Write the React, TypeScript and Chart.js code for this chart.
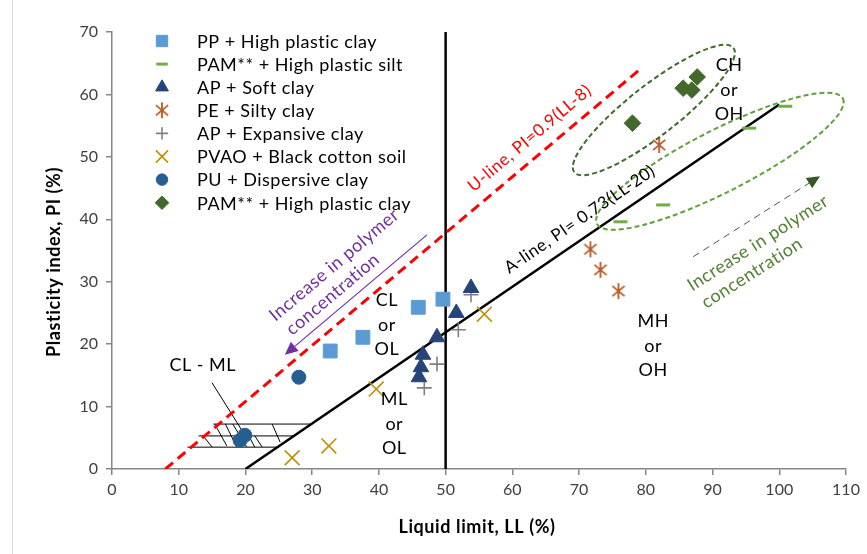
import React, { useEffect, useRef } from "react";
import { Chart, registerables } from "chart.js";
import { drawPoint } from "chart.js/helpers";

Chart.register(...registerables);

// ---------------- data ----------------
const xTicks = [0, 10, 20, 30, 40, 50, 60, 70, 80, 90, 100, 110];
const yTicks = [0, 10, 20, 30, 40, 50, 60, 70];

const legendLabels = [
  "PP + High plastic clay",
  "PAM** + High plastic silt",
  "AP + Soft clay",
  "PE + Silty clay",
  "AP + Expansive clay",
  "PVAO + Black cotton soil",
  "PU + Dispersive clay",
  "PAM** + High plastic clay",
];

const ppLL = [32.7, 37.6, 45.9, 49.6];
const ppPI = [18.9, 21.1, 25.9, 27.2];
const pamSiltLL = [76.2, 82.6, 95.5, 100.9];
const pamSiltPI = [39.6, 42.3, 54.6, 58.1];
const apSoftLL = [46.0, 46.3, 46.6, 48.7, 51.6, 53.8];
const apSoftPI = [14.7, 16.3, 18.3, 21.1, 25.0, 29.0];
const peLL = [71.7, 73.2, 75.9, 82.0];
const pePI = [35.2, 31.9, 28.5, 51.9];
const apExpLL = [46.8, 48.7, 51.9, 53.8];
const apExpPI = [13.0, 16.8, 22.3, 27.9];
const pvaoLL = [27.0, 32.5, 39.6, 55.8];
const pvaoPI = [1.8, 3.7, 12.8, 24.8];
const puLL = [19.2, 19.9, 28.0];
const puPI = [4.6, 5.4, 14.7];
const pamClayLL = [78.0, 85.6, 86.9, 87.7];
const pamClayPI = [55.4, 61.0, 60.7, 62.8];

// reference lines
const uLineLL = [8, 79];
const uLinePI = [0, 63.9];
const aLineLL = [20, 100];
const aLinePI = [0, 58.4];
const vLineLL = [50, 50];
const vLinePI = [0, 70];

// CL-ML hatched zone
const hatchRowPI = [7.2, 5.3, 3.5];
const hatchRowFrom = [15.2, 13.0, 11.3];
const hatchRowTo = [29.8, 27.3, 25.0];
const hatchTopLL = [13.6, 15.4, 17.0, 18.1, 19.9, 21.4, 24.0];
const hatchTopPI = [5.4, 7.2, 7.2, 7.2, 6.5, 5.3, 7.2];
const hatchBotLL = [15.0, 17.2, 18.7, 20.2, 21.4, 22.5, 25.2];
const hatchBotPI = [3.5, 3.7, 3.5, 3.5, 3.5, 3.5, 4.3];
const pointerLL = [15.0, 20.4];
const pointerPI = [13.8, 4.6];

// arrows
const purpleArrowLL = [47.2, 25.9];
const purpleArrowPI = [37.5, 18.3];
const greenArrowLL = [87.1, 106.1];
const greenArrowPI = [34.0, 46.9];

// ellipses (centre in data units)
const ellipseLL = [81.2, 91.1];
const ellipsePI = [57.5, 49.3];

// zone labels
const zoneText = [["CL", "or", "OL"], ["ML", "or", "OL"], ["MH", "or", "OH"], ["CH", "or", "OH"], ["CL - ML"]];
const zoneLL = [41.2, 42.3, 81.1, 92.5, 13.6];
const zonePI = [23.1, 7.2, 19.7, 60.7, 16.7];

// ---------------- styles ----------------
const FONT = "Lato, 'Open Sans', 'DejaVu Sans', sans-serif";
const C_PP = "#5B9BD5";
const C_SILT = "#70AD47";
const C_SOFT = "#264478";
const C_PE = "#B85A24";
const C_EXP = "#7F7F7F";
const C_PVAO = "#BF9000";
const C_PU = "#255E91";
const C_PAMC = "#43682B";
const C_AXIS = "#868686";

function pts(xs: number[], ys: number[]) {
  return xs.map((x, i) => ({ x, y: ys[i] }));
}

function makeAsterisk(color: string): HTMLCanvasElement {
  const s = 18;
  const c = document.createElement("canvas");
  c.width = s;
  c.height = s;
  const g = c.getContext("2d")!;
  g.strokeStyle = color;
  g.lineWidth = 1.8;
  const m = s / 2;
  const r = 8;
  g.beginPath();
  g.moveTo(m, m - r);
  g.lineTo(m, m + r);
  const a = (40 * Math.PI) / 180;
  g.moveTo(m - r * Math.cos(a), m - r * Math.sin(a));
  g.lineTo(m + r * Math.cos(a), m + r * Math.sin(a));
  g.moveTo(m - r * Math.cos(a), m + r * Math.sin(a));
  g.lineTo(m + r * Math.cos(a), m - r * Math.sin(a));
  g.stroke();
  return c;
}

export default function App() {
  const ref = useRef<HTMLCanvasElement>(null);

  useEffect(() => {
    const star = makeAsterisk(C_PE);
    const series: any[] = [
      { ll: ppLL, pi: ppPI, style: "rect", r: 9.8, color: C_PP, bw: 1 },
      { ll: pamSiltLL, pi: pamSiltPI, style: "line", r: 7, color: C_SILT, bw: 3 },
      { ll: apSoftLL, pi: apSoftPI, style: "triangle", r: 9, color: C_SOFT, bw: 1 },
      { ll: peLL, pi: pePI, style: star, r: 8, color: C_PE, bw: 1.8 },
      { ll: apExpLL, pi: apExpPI, style: "cross", r: 7.5, color: C_EXP, bw: 1.6 },
      { ll: pvaoLL, pi: pvaoPI, style: "crossRot", r: 10.5, color: C_PVAO, bw: 1.6 },
      { ll: puLL, pi: puPI, style: "circle", r: 7, color: C_PU, bw: 1 },
      { ll: pamClayLL, pi: pamClayPI, style: "rectRot", r: 8.3, color: C_PAMC, bw: 1 },
    ];

    const pointSets = series.map((s, i) => ({
      label: legendLabels[i],
      data: pts(s.ll, s.pi),
      pointStyle: s.style,
      pointRadius: s.r,
      pointHoverRadius: s.r,
      pointBorderWidth: s.bw,
      pointBackgroundColor: s.color,
      pointBorderColor: s.color,
      backgroundColor: s.color,
      borderColor: s.color,
      showLine: false,
    }));

    const lineSet = (ll: number[], pi: number[], color: string, width: number, dash: number[]) => ({
      label: "",
      data: pts(ll, pi),
      showLine: true,
      pointRadius: 0,
      pointHoverRadius: 0,
      borderColor: color,
      borderWidth: width,
      borderDash: dash,
      borderCapStyle: "butt",
      fill: false,
    });

    const annoPlugin = {
      id: "anno",
      beforeDatasetsDraw(chart: any) {
        const ctx = chart.ctx;
        const X = (v: number) => chart.scales.x.getPixelForValue(v);
        const Y = (v: number) => chart.scales.y.getPixelForValue(v);
        ctx.save();
        ctx.strokeStyle = "#D9D9D9";
        ctx.lineWidth = 1;
        ctx.beginPath();
        ctx.moveTo(12.5, 0);
        ctx.lineTo(12.5, 554);
        ctx.stroke();
        ctx.strokeStyle = "#000";
        ctx.lineWidth = 1;
        ctx.beginPath();
        hatchRowPI.forEach((p, i) => {
          ctx.moveTo(X(hatchRowFrom[i]), Y(p));
          ctx.lineTo(X(hatchRowTo[i]), Y(p));
        });
        hatchTopLL.forEach((l, i) => {
          ctx.moveTo(X(l), Y(hatchTopPI[i]));
          ctx.lineTo(X(hatchBotLL[i]), Y(hatchBotPI[i]));
        });
        ctx.moveTo(X(pointerLL[0]), Y(pointerPI[0]));
        ctx.lineTo(X(pointerLL[1]), Y(pointerPI[1]));
        ctx.stroke();
        ctx.restore();
      },
      afterDatasetsDraw(chart: any) {
        const ctx = chart.ctx;
        const X = (v: number) => chart.scales.x.getPixelForValue(v);
        const Y = (v: number) => chart.scales.y.getPixelForValue(v);
        ctx.save();

        const ell = [
          { a: 101, b: 25, rot: -38, color: "#3F6A2A" },
          { a: 138, b: 31, rot: -27, color: "#62A03C" },
        ];
        ell.forEach((e, i) => {
          ctx.save();
          ctx.translate(X(ellipseLL[i]), Y(ellipsePI[i]));
          ctx.rotate((e.rot * Math.PI) / 180);
          ctx.beginPath();
          ctx.ellipse(0, 0, e.a, e.b, 0, 0, Math.PI * 2);
          ctx.setLineDash([5, 3]);
          ctx.lineWidth = 2;
          ctx.strokeStyle = e.color;
          ctx.stroke();
          ctx.restore();
        });

        const arrow = (ll: number[], pi: number[], color: string, headColor: string, dash: number[], width: number) => {
          const x1 = X(ll[0]), y1 = Y(pi[0]), x2 = X(ll[1]), y2 = Y(pi[1]);
          const ang = Math.atan2(y2 - y1, x2 - x1);
          const hl = 13, hw = 6;
          ctx.save();
          ctx.strokeStyle = color;
          ctx.lineWidth = width;
          ctx.setLineDash(dash);
          ctx.beginPath();
          ctx.moveTo(x1, y1);
          ctx.lineTo(x2 - hl * Math.cos(ang), y2 - hl * Math.sin(ang));
          ctx.stroke();
          ctx.setLineDash([]);
          ctx.fillStyle = headColor;
          ctx.beginPath();
          ctx.moveTo(x2, y2);
          ctx.lineTo(x2 - hl * Math.cos(ang) + hw * Math.sin(ang), y2 - hl * Math.sin(ang) - hw * Math.cos(ang));
          ctx.lineTo(x2 - hl * Math.cos(ang) - hw * Math.sin(ang), y2 - hl * Math.sin(ang) + hw * Math.cos(ang));
          ctx.closePath();
          ctx.fill();
          ctx.restore();
          return ang;
        };
        const pAng = arrow(purpleArrowLL, purpleArrowPI, "#7030A0", "#7030A0", [], 1.2);
        const gAng = arrow(greenArrowLL, greenArrowPI, "#44603A", "#375623", [7, 5], 1);

        const text = (t: string, x: number, y: number, ang: number, font: string, color: string, ls = "0px") => {
          ctx.save();
          ctx.translate(x, y);
          ctx.rotate(ang);
          ctx.font = font;
          (ctx as any).letterSpacing = ls;
          ctx.fillStyle = color;
          ctx.textAlign = "center";
          ctx.textBaseline = "middle";
          ctx.fillText(t, 0, 0);
          ctx.restore();
        };

        const uAng = Math.atan2(Y(uLinePI[1]) - Y(uLinePI[0]), X(uLineLL[1]) - X(uLineLL[0]));
        const aAng = Math.atan2(Y(aLinePI[1]) - Y(aLinePI[0]), X(aLineLL[1]) - X(aLineLL[0]));
        text("U-line, PI=0.9(LL-8)", X(62.6), Y(53.0), uAng, `17px ${FONT}`, "#FF0000", "0.6px");
        text("A-line, PI= 0.73(LL-20)", X(70.1), Y(40.0), aAng, `17px ${FONT}`, "#000", "0.5px");

        const pa = pAng + Math.PI;
        text("Increase in polymer", X(33.3), Y(32.7), pa, `18px ${FONT}`, "#7030A0", "0.5px");
        text("concentration", X(33.1), Y(28.0), pa, `18px ${FONT}`, "#7030A0", "0.5px");
        text("Increase in polymer", X(96.8), Y(36.2), gAng, `18px ${FONT}`, "#548235", "0.5px");
        text("concentration", X(95.9), Y(31.4), gAng, `18px ${FONT}`, "#548235", "0.5px");

        zoneText.forEach((lines, i) => {
          const n = lines.length;
          lines.forEach((t, j) => {
            text(t, X(zoneLL[i]), Y(zonePI[i]) + (j - (n - 1) / 2) * 24.5, 0, `18px ${FONT}`, "#000", "0.5px");
          });
        });
        ctx.restore();
      },
      afterDraw(chart: any) {
        const ctx = chart.ctx;
        const area = chart.chartArea;
        ctx.save();
        series.forEach((s, i) => {
          const x = area.left + 50;
          const y = area.top + 9 + i * 23.1;
          ctx.fillStyle = s.color;
          ctx.strokeStyle = s.color;
          ctx.lineWidth = s.bw;
          drawPoint(ctx, { pointStyle: s.style, radius: s.r * 0.82, rotation: 0, borderWidth: s.bw } as any, x, y);
          ctx.fillStyle = "#000";
          ctx.font = `18px ${FONT}`;
          (ctx as any).letterSpacing = "0.5px";
          ctx.textAlign = "left";
          ctx.textBaseline = "middle";
          ctx.fillText(legendLabels[i], area.left + 85, y + 1);
          (ctx as any).letterSpacing = "0px";
        });
        ctx.fillStyle = "#000";
        ctx.font = `bold 18px ${FONT}`;
        (ctx as any).letterSpacing = "0.6px";
        ctx.textAlign = "center";
        ctx.textBaseline = "middle";
        ctx.fillText("Liquid limit, LL (%)", (area.left + area.right) / 2 - 2, 527);
        ctx.save();
        ctx.translate(54, 262);
        ctx.rotate(-Math.PI / 2);
        ctx.fillText("Plasticity index, PI (%)", 0, 0);
        ctx.restore();
        ctx.restore();
      },
    };

    const chart = new Chart(ref.current!, {
      type: "scatter",
      data: {
        datasets: [
          ...pointSets,
          lineSet(uLineLL, uLinePI, "#FF0000", 3, [10, 6]),
          lineSet(aLineLL, aLinePI, "#000000", 2.5, []),
          lineSet(vLineLL, vLinePI, "#000000", 2.5, []),
        ] as any,
      },
      options: {
        responsive: false,
        animation: false,
        events: [],
        layout: { padding: { left: 0, right: 21, top: 32, bottom: 0 } },
        plugins: { legend: { display: false }, tooltip: { enabled: false } },
        scales: {
          x: {
            type: "linear",
            min: 0,
            max: 110,
            afterFit: (s: any) => {
              s.height = 85;
            },
            afterBuildTicks: (s: any) => {
              s.ticks = xTicks.map((v) => ({ value: v }));
            },
            ticks: { color: "#404040", font: { family: FONT, size: 16 }, padding: 5 },
            grid: { drawOnChartArea: false, drawTicks: true, tickLength: 6, color: C_AXIS, lineWidth: 1.5 },
            border: { color: C_AXIS, width: 1.5 },
          },
          y: {
            type: "linear",
            min: 0,
            max: 70,
            afterFit: (s: any) => {
              s.width = 112;
            },
            afterBuildTicks: (s: any) => {
              s.ticks = yTicks.map((v) => ({ value: v }));
            },
            ticks: { color: "#404040", font: { family: FONT, size: 16 }, padding: 8 },
            grid: { drawOnChartArea: false, drawTicks: true, tickLength: 6, color: C_AXIS, lineWidth: 1.5 },
            border: { color: C_AXIS, width: 1.5 },
          },
        },
      } as any,
      plugins: [annoPlugin],
    });
    return () => chart.destroy();
  }, []);

  return (
    <div style={{ position: "absolute", left: 0, top: 0, width: 867, height: 554, background: "#fff" }}>
      <canvas ref={ref} width={867} height={554} style={{ display: "block", width: 867, height: 554 }} />
    </div>
  );
}
